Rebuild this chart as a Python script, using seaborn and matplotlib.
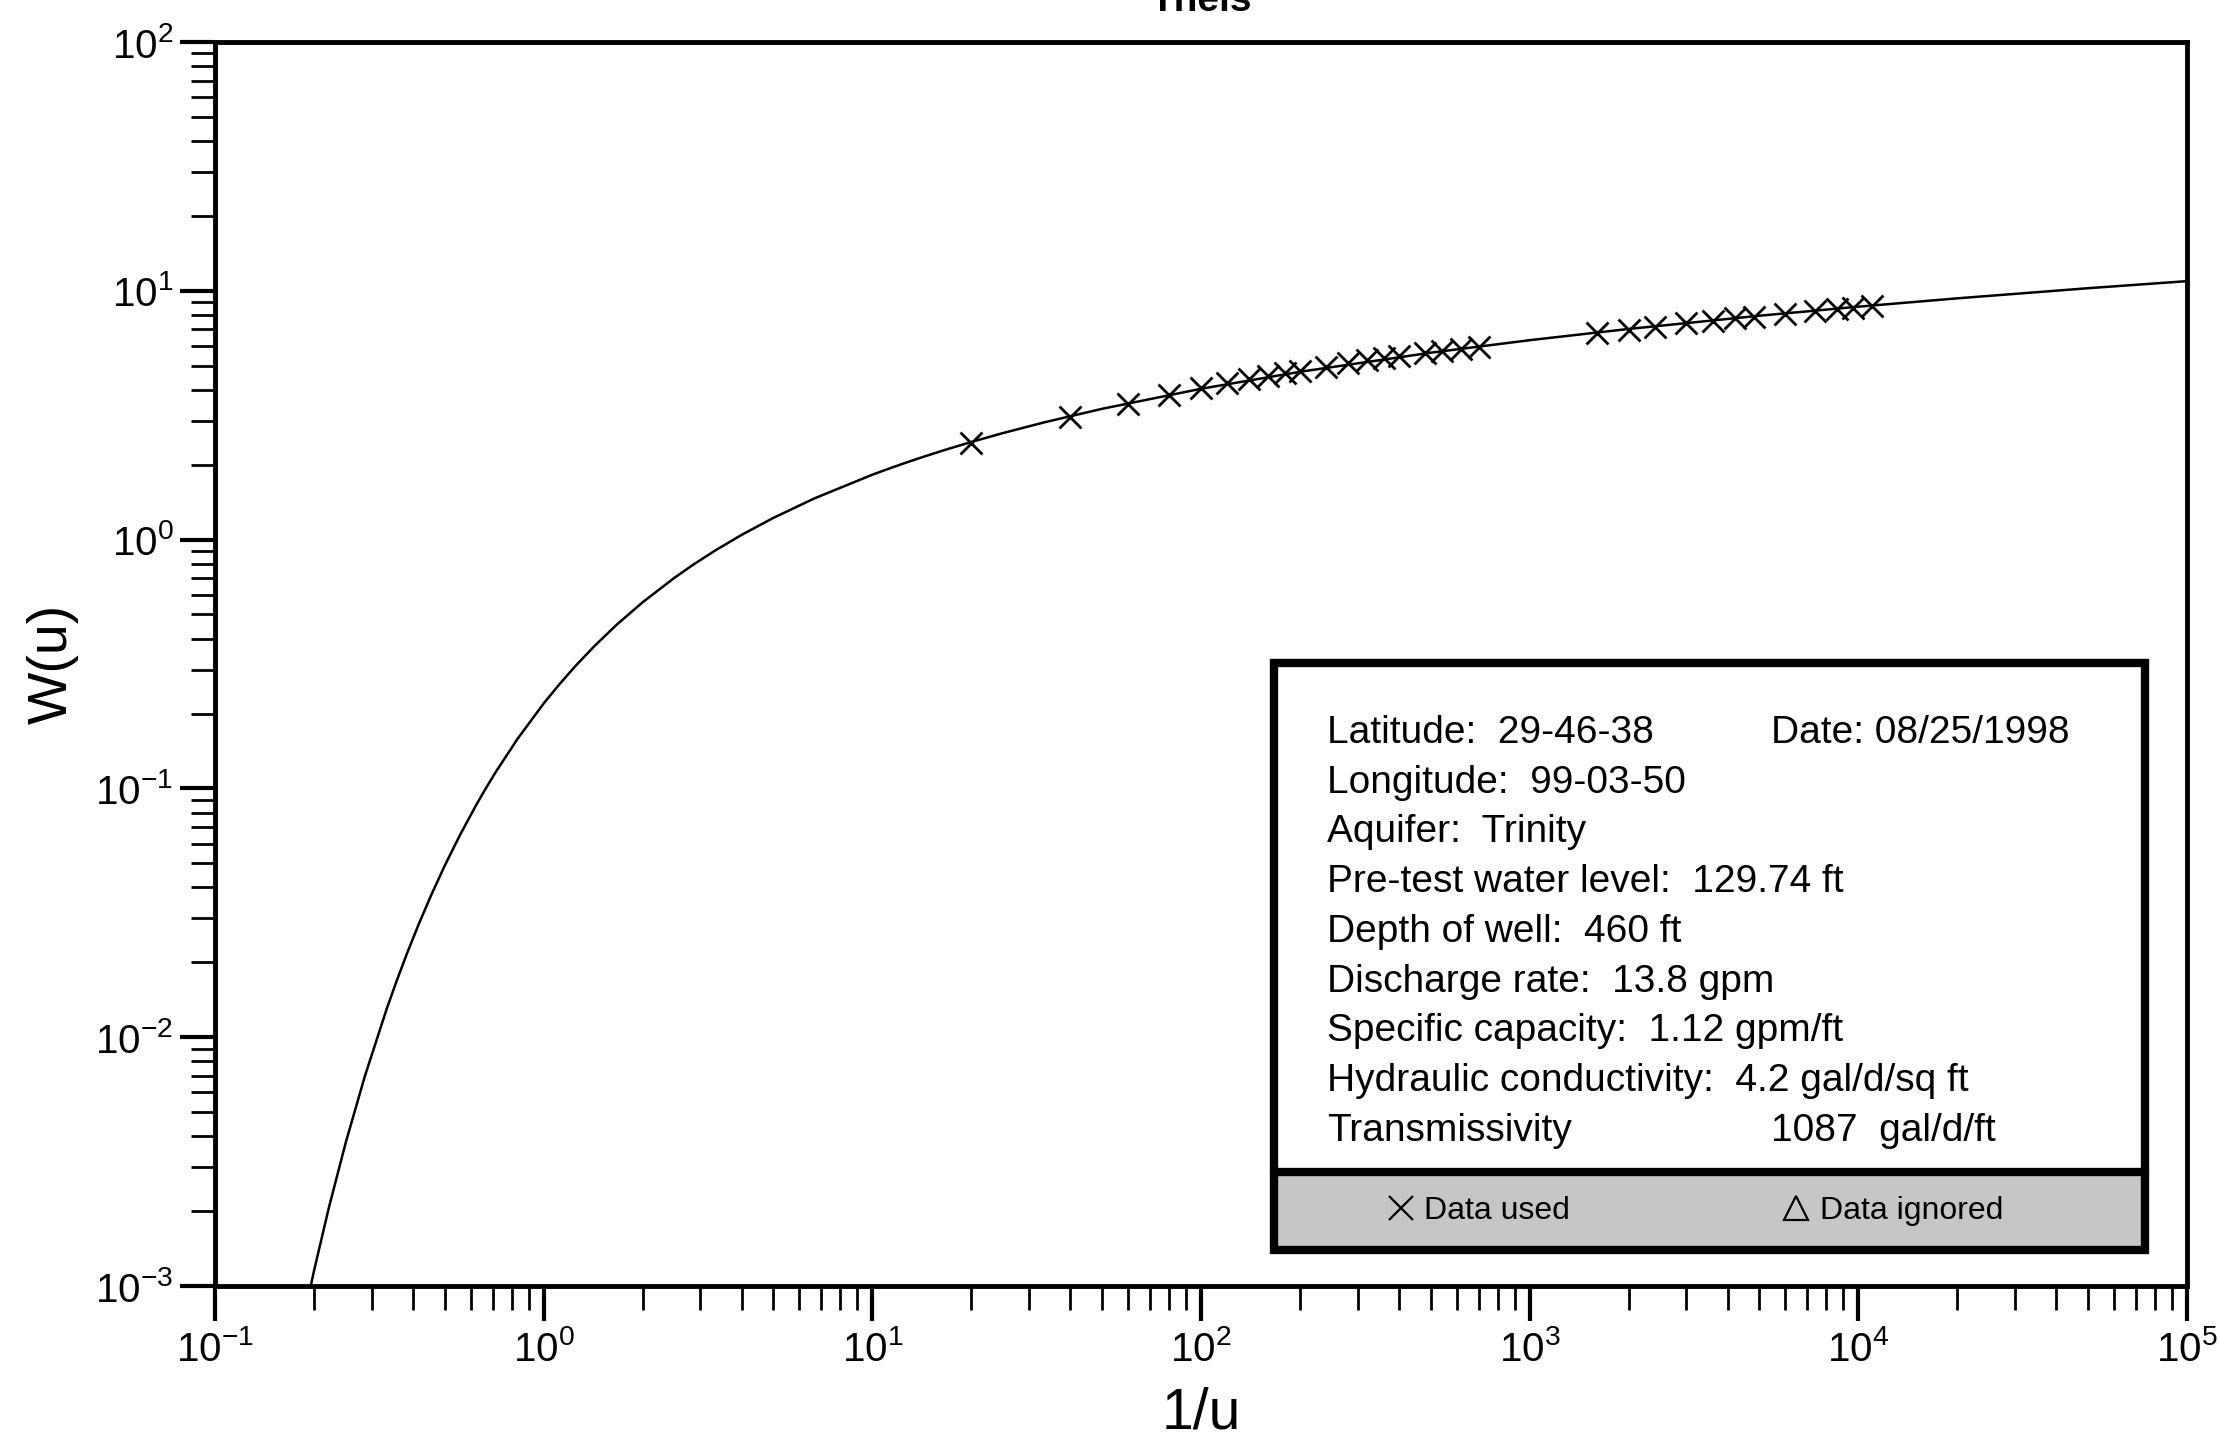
import matplotlib
matplotlib.use("Agg")
import matplotlib.pyplot as plt
from matplotlib.lines import Line2D
from matplotlib.patches import Rectangle
import numpy as np
import pandas as pd
import seaborn as sns

# Theis type curve: well function W(u) read at tabulated u
curve_u = [6.0, 5.5, 5.0, 4.5, 4.0, 3.5, 3.0, 2.8, 2.6, 2.4, 2.2, 2.0, 1.8, 1.6, 1.5,
           1.4, 1.2, 1.0, 0.9, 0.8, 0.7, 0.6, 0.5, 0.4, 0.35, 0.3, 0.25, 0.2, 0.15, 0.1,
           0.09, 0.08, 0.07, 0.06, 0.05, 0.04, 0.03, 0.02, 0.01, 0.005, 0.002, 0.001,
           5e-4, 2e-4, 1e-4, 5e-5, 2e-5, 1e-5]
curve_wu = [0.000360, 0.000640, 0.001148, 0.002073, 0.003779, 0.006970, 0.01305, 0.01686,
            0.02185, 0.02844, 0.03719, 0.04890, 0.06471, 0.08631, 0.1000, 0.1162, 0.1584,
            0.2194, 0.2602, 0.3106, 0.3738, 0.4544, 0.5598, 0.7024, 0.7942, 0.9057, 1.0443,
            1.2227, 1.4645, 1.8229, 1.9187, 2.0269, 2.1508, 2.2953, 2.4679, 2.6813, 2.9591,
            3.3547, 4.0379, 4.7261, 5.6394, 6.3315, 7.0247, 7.9402, 8.6332, 9.3263,
            10.2426, 10.9357]

# observed data (used points)
obs_inv_u = [20, 40, 60, 80, 100, 120, 140, 160, 180, 200, 240, 280, 320, 360, 400,
             480, 540, 620, 700, 1600, 2000, 2400, 3000, 3600, 4200, 4800, 6000, 7400,
             8600, 9600, 11000]
obs_wu = [2.45, 3.12, 3.52, 3.82, 4.05, 4.25, 4.42, 4.55, 4.66, 4.78, 4.96, 5.12, 5.25,
          5.36, 5.45, 5.63, 5.74, 5.86, 5.96, 6.75, 6.95, 7.15, 7.40, 7.55, 7.75, 7.85,
          8.08, 8.30, 8.45, 8.55, 8.70]

info_left = ["Latitude:  29-46-38", "Longitude:  99-03-50", "Aquifer:  Trinity",
             "Pre-test water level:  129.74 ft", "Depth of well:  460 ft",
             "Discharge rate:  13.8 gpm", "Specific capacity:  1.12 gpm/ft",
             "Hydraulic conductivity:  4.2 gal/d/sq ft", "Transmissivity"]
info_right = {0: "Date: 08/25/1998", 8: "1087  gal/d/ft"}

curve = pd.DataFrame({"inv_u": 1.0 / np.array(curve_u), "wu": curve_wu})
obs = pd.DataFrame({"inv_u": obs_inv_u, "wu": obs_wu})

sns.set_theme(style="ticks")
plt.rcParams["font.family"] = ["Liberation Sans", "DejaVu Sans"]
plt.rcParams["mathtext.fontset"] = "custom"
plt.rcParams["mathtext.rm"] = "Liberation Sans"
plt.rcParams["mathtext.default"] = "regular"
plt.rcParams["text.color"] = "black"
plt.rcParams["axes.labelcolor"] = "black"
plt.rcParams["xtick.color"] = "black"
plt.rcParams["ytick.color"] = "black"

W, H = 2220, 1455
fig = plt.figure(figsize=(W / 100, H / 100), dpi=100)
ax = fig.add_axes([215 / W, 1 - 1286 / H, (2187 - 215) / W, (1286 - 42) / H])
ax.set_xscale("log")
ax.set_yscale("log")

sns.lineplot(data=curve, x="inv_u", y="wu", ax=ax, color="black", linewidth=1.8,
             estimator=None, sort=False)
sns.scatterplot(data=obs, x="inv_u", y="wu", ax=ax, marker="x", s=250, color="black",
                linewidth=2.0, zorder=3)

ax.set_xlim(1e-1, 1e5)
ax.set_ylim(1e-3, 1e2)
ax.set_xlabel("1/u", fontsize=41, labelpad=12)
ax.set_ylabel("W(u)", fontsize=40, labelpad=12)
ax.set_title("Theis", fontsize=28, fontweight="bold", pad=22)

for s in ax.spines.values():
    s.set_linewidth(3.5)
    s.set_color("black")
ax.tick_params(which="major", direction="out", length=25, width=3.0, labelsize=29,
               pad=5)
ax.tick_params(which="minor", direction="out", length=17, width=2.0)
ax.tick_params(axis="x", which="major", pad=7)

# info box
x0, x1 = 1274, 2145
ytop, ysep, ybot = 663, 1172, 1250
fig.patches.append(Rectangle((x0 / W, 1 - ybot / H), (x1 - x0) / W, (ybot - ysep) / H,
                             transform=fig.transFigure, facecolor="#c6c6c6",
                             edgecolor="none", zorder=5))
fig.patches.append(Rectangle((x0 / W, 1 - ysep / H), (x1 - x0) / W, (ysep - ytop) / H,
                             transform=fig.transFigure, facecolor="white",
                             edgecolor="none", zorder=5))
fig.patches.append(Rectangle((x0 / W, 1 - ybot / H), (x1 - x0) / W, (ybot - ytop) / H,
                             transform=fig.transFigure, facecolor="none",
                             edgecolor="black", linewidth=6, zorder=6))
fig.lines.append(Line2D([x0 / W, x1 / W], [1 - ysep / H, 1 - ysep / H],
                        transform=fig.transFigure, color="black", linewidth=6, zorder=6))

base0, step = 743, 49.7
for i, txt in enumerate(info_left):
    yy = 1 - (base0 + i * step) / H
    fig.text(1327 / W, yy, txt, fontsize=28, va="baseline", ha="left", zorder=7)
    if i in info_right:
        fig.text(1771 / W, yy, info_right[i], fontsize=28, va="baseline", ha="left",
                 zorder=7)

handles = [Line2D([], [], ls="none", marker="x", color="black", markersize=17,
                  markeredgewidth=1.6, label="Data used"),
           Line2D([], [], ls="none", marker="^", color="black", markerfacecolor="none",
                  markersize=17, markeredgewidth=1.6, label="Data ignored")]
leg = fig.legend(handles=handles, loc="center left", ncol=2, frameon=False,
                 bbox_to_anchor=(1359 / W, 1 - 1211 / H), fontsize=23,
                 handlelength=0.8, handletextpad=0.35, columnspacing=6.65)
leg.set_zorder(8)

fig.savefig("out.png", dpi=100)
